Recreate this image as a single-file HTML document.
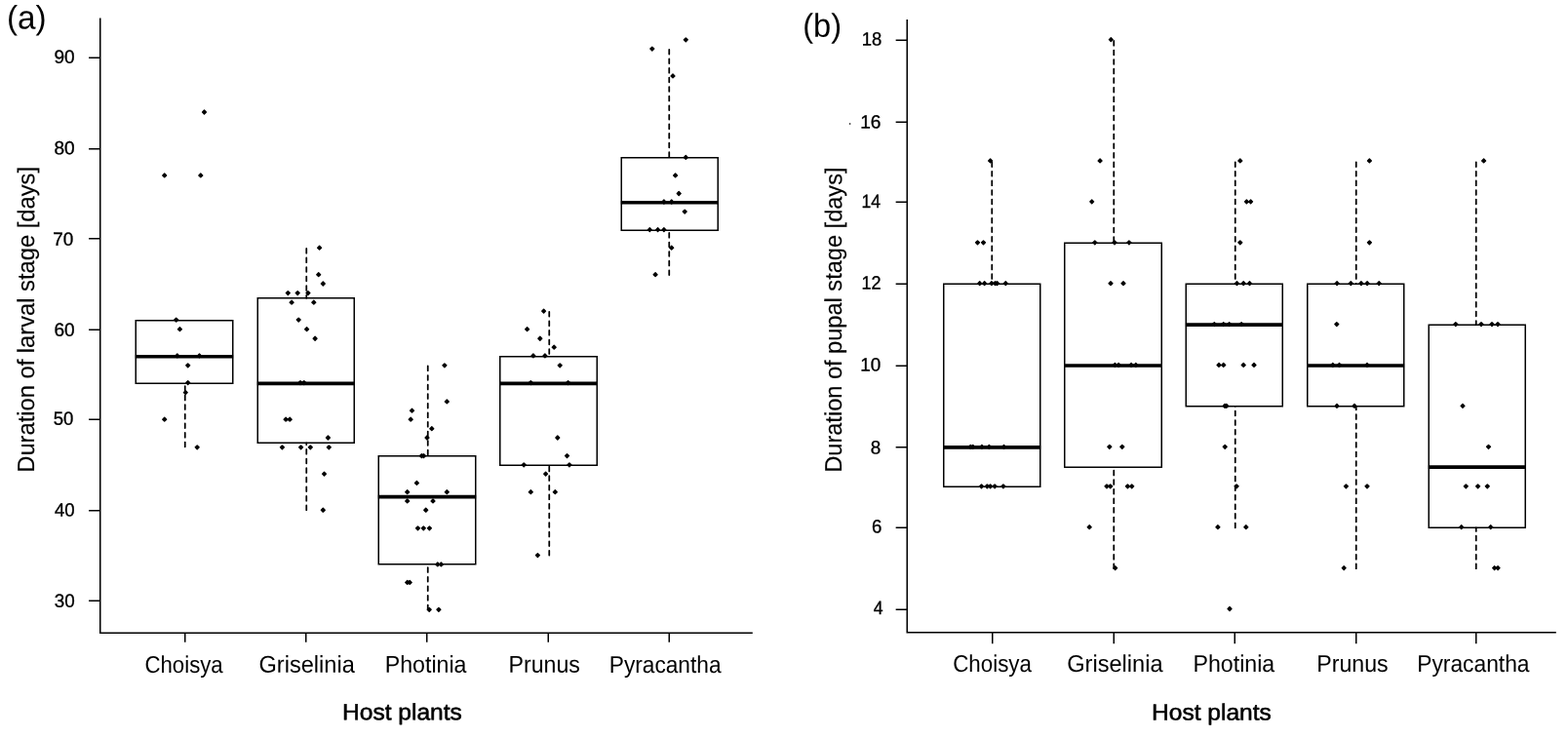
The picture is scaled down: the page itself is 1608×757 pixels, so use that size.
<!DOCTYPE html>
<html lang="en">
<head>
<meta charset="utf-8">
<title>Duration of larval and pupal stage by host plant</title>
<style>
html,body{margin:0;padding:0;background:#fff;}
body{width:1608px;height:757px;overflow:hidden;}
svg{display:block;}
text{font-family:"Liberation Sans",Arial,Helvetica,sans-serif;fill:#000;}
.hp{stroke:#000;stroke-width:0.55px;stroke-linejoin:round;}
.tl{stroke:#000;stroke-width:0.35px;stroke-linejoin:round;}
.yl{stroke:#000;stroke-width:0.12px;stroke-linejoin:round;}
.ln,.tk,.bx,.wh,.md{fill:none;stroke:#000;}
.ln{stroke-width:1.55px;stroke-linejoin:miter;}
.tk{stroke-width:1.5px;}
.bx{stroke-width:1.5px;stroke-linejoin:miter;}
.wh{stroke-width:1.75px;stroke-dasharray:4.75 4.83;stroke-linecap:round;}
.md{stroke-width:3.6px;}
.pt{fill:#000;stroke:#000;stroke-width:1.4px;stroke-linejoin:round;}
.sp{fill:#444;}
</style>
</head>
<body>
<svg width="1608" height="757" viewBox="0 0 1608 757" role="img" aria-label="Box plots of larval and pupal stage duration by host plant">
<rect x="0" y="0" width="1608" height="757" fill="#fff"/>
<g id="panel-a">
<path class="ln" d="M102.75 18.4V649.25H771.8"/>
<path class="tk" d="M102.75 616.25h-11.7M102.75 523.75h-11.7M102.75 430.25h-11.7M102.75 338.25h-11.7M102.75 244.75h-11.7M102.75 152.75h-11.7M102.75 59.25h-11.7M189.75 649.25V658.7M313.75 649.25V658.7M437.75 649.25V658.7M562.25 649.25V658.7M686.25 649.25V658.7"/>
<path class="bx" d="M139.25 328.75H238.75V393.25H139.25ZM264.25 305.75H363.25V454.25H264.25ZM388.25 467.75H487.75V578.75H388.25ZM512.75 365.75H612.25V477.25H512.75ZM637.25 161.75H736.25V236.25H637.25Z"/>
<path class="wh" d="M189.75 458.28V393.25M314.25 254.88V305.75M314.25 523.23V454.25M438.75 375.48V467.75M438.75 625.28V578.75M563.25 319.82V365.75M563.25 569.61V477.25M686.25 50.77V161.75M686.25 282.01V236.25"/>
<path class="md" d="M138.85 365.81H239.15M263.85 393.34H363.65M387.85 509.61H488.15M512.35 393.34H612.65M636.85 207.79H736.65"/>
<path class="pt" d="M166.8 179.96l1.9 -1.9l1.9 1.9l-1.9 1.9zM203.9 179.96l1.9 -1.9l1.9 1.9l-1.9 1.9zM207.6 115.01l1.9 -1.9l1.9 1.9l-1.9 1.9zM178.8 328.1l1.9 -1.9l1.9 1.9l-1.9 1.9zM182.5 337.68l1.9 -1.9l1.9 1.9l-1.9 1.9zM179.9 364.91l1.9 -1.9l1.9 1.9l-1.9 1.9zM202.6 364.91l1.9 -1.9l1.9 1.9l-1.9 1.9zM190.8 374.78l1.9 -1.9l1.9 1.9l-1.9 1.9zM190.8 392.54l1.9 -1.9l1.9 1.9l-1.9 1.9zM188.4 402.62l1.9 -1.9l1.9 1.9l-1.9 1.9zM166.8 430.15l1.9 -1.9l1.9 1.9l-1.9 1.9zM200.3 458.78l1.9 -1.9l1.9 1.9l-1.9 1.9zM325.7 254.18l1.9 -1.9l1.9 1.9l-1.9 1.9zM324.8 281.71l1.9 -1.9l1.9 1.9l-1.9 1.9zM329.4 290.99l1.9 -1.9l1.9 1.9l-1.9 1.9zM293.4 300.56l1.9 -1.9l1.9 1.9l-1.9 1.9zM303.3 300.56l1.9 -1.9l1.9 1.9l-1.9 1.9zM314 300.56l1.9 -1.9l1.9 1.9l-1.9 1.9zM297.2 310.14l1.9 -1.9l1.9 1.9l-1.9 1.9zM319.9 310.14l1.9 -1.9l1.9 1.9l-1.9 1.9zM304.3 328.1l1.9 -1.9l1.9 1.9l-1.9 1.9zM312.7 337.68l1.9 -1.9l1.9 1.9l-1.9 1.9zM321.2 347.25l1.9 -1.9l1.9 1.9l-1.9 1.9zM306.1 392.54l1.9 -1.9l1.9 1.9l-1.9 1.9zM309.9 392.54l1.9 -1.9l1.9 1.9l-1.9 1.9zM291.2 430.15l1.9 -1.9l1.9 1.9l-1.9 1.9zM295.3 430.15l1.9 -1.9l1.9 1.9l-1.9 1.9zM334.5 449l1.9 -1.9l1.9 1.9l-1.9 1.9zM287.5 458.78l1.9 -1.9l1.9 1.9l-1.9 1.9zM306.7 458.78l1.9 -1.9l1.9 1.9l-1.9 1.9zM316.4 458.78l1.9 -1.9l1.9 1.9l-1.9 1.9zM335.4 458.78l1.9 -1.9l1.9 1.9l-1.9 1.9zM330.6 486.12l1.9 -1.9l1.9 1.9l-1.9 1.9zM329.4 523.23l1.9 -1.9l1.9 1.9l-1.9 1.9zM454 374.78l1.9 -1.9l1.9 1.9l-1.9 1.9zM456.4 411.89l1.9 -1.9l1.9 1.9l-1.9 1.9zM420.6 421.17l1.9 -1.9l1.9 1.9l-1.9 1.9zM419.3 430.15l1.9 -1.9l1.9 1.9l-1.9 1.9zM440.9 439.73l1.9 -1.9l1.9 1.9l-1.9 1.9zM436.1 449l1.9 -1.9l1.9 1.9l-1.9 1.9zM430.5 467.56l1.9 -1.9l1.9 1.9l-1.9 1.9zM432.6 467.56l1.9 -1.9l1.9 1.9l-1.9 1.9zM425.5 495.39l1.9 -1.9l1.9 1.9l-1.9 1.9zM415.8 504.67l1.9 -1.9l1.9 1.9l-1.9 1.9zM456.4 504.67l1.9 -1.9l1.9 1.9l-1.9 1.9zM415.8 513.95l1.9 -1.9l1.9 1.9l-1.9 1.9zM442.1 513.95l1.9 -1.9l1.9 1.9l-1.9 1.9zM434.8 523.23l1.9 -1.9l1.9 1.9l-1.9 1.9zM426.6 541.78l1.9 -1.9l1.9 1.9l-1.9 1.9zM432.4 541.78l1.9 -1.9l1.9 1.9l-1.9 1.9zM438.5 541.78l1.9 -1.9l1.9 1.9l-1.9 1.9zM446.9 578.89l1.9 -1.9l1.9 1.9l-1.9 1.9zM450.5 578.89l1.9 -1.9l1.9 1.9l-1.9 1.9zM415.8 597.45l1.9 -1.9l1.9 1.9l-1.9 1.9zM418.3 597.45l1.9 -1.9l1.9 1.9l-1.9 1.9zM438.3 625.28l1.9 -1.9l1.9 1.9l-1.9 1.9zM448 625.28l1.9 -1.9l1.9 1.9l-1.9 1.9zM555.7 319.12l1.9 -1.9l1.9 1.9l-1.9 1.9zM538.7 337.68l1.9 -1.9l1.9 1.9l-1.9 1.9zM551.9 347.25l1.9 -1.9l1.9 1.9l-1.9 1.9zM566.3 356.23l1.9 -1.9l1.9 1.9l-1.9 1.9zM545 364.91l1.9 -1.9l1.9 1.9l-1.9 1.9zM557 364.91l1.9 -1.9l1.9 1.9l-1.9 1.9zM572.3 374.78l1.9 -1.9l1.9 1.9l-1.9 1.9zM542.4 392.54l1.9 -1.9l1.9 1.9l-1.9 1.9zM580.7 392.54l1.9 -1.9l1.9 1.9l-1.9 1.9zM569.9 449l1.9 -1.9l1.9 1.9l-1.9 1.9zM579.6 467.56l1.9 -1.9l1.9 1.9l-1.9 1.9zM535.3 476.84l1.9 -1.9l1.9 1.9l-1.9 1.9zM582 476.84l1.9 -1.9l1.9 1.9l-1.9 1.9zM557.7 486.12l1.9 -1.9l1.9 1.9l-1.9 1.9zM542.4 504.67l1.9 -1.9l1.9 1.9l-1.9 1.9zM567.4 504.67l1.9 -1.9l1.9 1.9l-1.9 1.9zM549.5 569.61l1.9 -1.9l1.9 1.9l-1.9 1.9zM701.4 40.79l1.9 -1.9l1.9 1.9l-1.9 1.9zM666.9 50.07l1.9 -1.9l1.9 1.9l-1.9 1.9zM688.1 77.9l1.9 -1.9l1.9 1.9l-1.9 1.9zM701.4 161.4l1.9 -1.9l1.9 1.9l-1.9 1.9zM690.7 179.96l1.9 -1.9l1.9 1.9l-1.9 1.9zM694.3 198.51l1.9 -1.9l1.9 1.9l-1.9 1.9zM679 206.99l1.9 -1.9l1.9 1.9l-1.9 1.9zM686.8 206.99l1.9 -1.9l1.9 1.9l-1.9 1.9zM700.3 217.07l1.9 -1.9l1.9 1.9l-1.9 1.9zM664.4 235.62l1.9 -1.9l1.9 1.9l-1.9 1.9zM672.7 235.62l1.9 -1.9l1.9 1.9l-1.9 1.9zM679 235.62l1.9 -1.9l1.9 1.9l-1.9 1.9zM686.8 254.18l1.9 -1.9l1.9 1.9l-1.9 1.9zM670.2 281.71l1.9 -1.9l1.9 1.9l-1.9 1.9z"/>
</g>
<g id="panel-b">
<path class="ln" d="M930.25 20.1V648.75H1595.8"/>
<path class="tk" d="M930.25 625.25h-11.6M930.25 541.25h-11.6M930.25 458.75h-11.6M930.25 375.25h-11.6M930.25 291.25h-11.6M930.25 207.25h-11.6M930.25 125.25h-11.6M930.25 41.25h-11.6M1017.75 648.75V660.2M1142.25 648.75V660.2M1266.25 648.75V660.2M1390.75 648.75V660.2M1513.75 648.75V660.2"/>
<path class="bx" d="M967.75 291.25H1066.75V499.25H967.75ZM1091.75 249.25H1191.25V479.25H1091.75ZM1216.25 291.25H1315.25V416.75H1216.25ZM1340.75 291.25H1439.75V416.75H1340.75ZM1465.25 333.25H1564.25V541.25H1465.25Z"/>
<path class="wh" d="M1017.25 166.27V291.25M1142.25 41.92V249.25M1142.25 583.22V479.25M1266.75 166.27V291.25M1266.75 541.32V416.75M1390.75 166.27V291.25M1390.75 583.22V416.75M1513.75 166.27V333.25M1513.75 583.22V541.25"/>
<path class="md" d="M967.35 458.87H1067.15M1091.35 375.07H1191.65M1215.85 333.17H1315.65M1340.35 375.07H1440.15M1464.85 479.14H1564.65"/>
<path class="pt" d="M1013.7 164.97l1.9 -1.9l1.9 1.9l-1.9 1.9zM1000.6 248.77l1.9 -1.9l1.9 1.9l-1.9 1.9zM1006.6 248.77l1.9 -1.9l1.9 1.9l-1.9 1.9zM1002.8 290.67l1.9 -1.9l1.9 1.9l-1.9 1.9zM1007.7 290.67l1.9 -1.9l1.9 1.9l-1.9 1.9zM1015 290.67l1.9 -1.9l1.9 1.9l-1.9 1.9zM1018.7 290.67l1.9 -1.9l1.9 1.9l-1.9 1.9zM1020.7 290.67l1.9 -1.9l1.9 1.9l-1.9 1.9zM1029.4 290.67l1.9 -1.9l1.9 1.9l-1.9 1.9zM993.4 458.27l1.9 -1.9l1.9 1.9l-1.9 1.9zM995.8 458.27l1.9 -1.9l1.9 1.9l-1.9 1.9zM1005 458.27l1.9 -1.9l1.9 1.9l-1.9 1.9zM1012.5 458.27l1.9 -1.9l1.9 1.9l-1.9 1.9zM1027.6 458.27l1.9 -1.9l1.9 1.9l-1.9 1.9zM1004.6 498.82l1.9 -1.9l1.9 1.9l-1.9 1.9zM1010.4 498.82l1.9 -1.9l1.9 1.9l-1.9 1.9zM1013.7 498.82l1.9 -1.9l1.9 1.9l-1.9 1.9zM1018.2 498.82l1.9 -1.9l1.9 1.9l-1.9 1.9zM1027 498.82l1.9 -1.9l1.9 1.9l-1.9 1.9zM1137.4 40.62l1.9 -1.9l1.9 1.9l-1.9 1.9zM1126.2 164.97l1.9 -1.9l1.9 1.9l-1.9 1.9zM1117.8 206.87l1.9 -1.9l1.9 1.9l-1.9 1.9zM1120.9 248.77l1.9 -1.9l1.9 1.9l-1.9 1.9zM1141.1 248.77l1.9 -1.9l1.9 1.9l-1.9 1.9zM1156 248.77l1.9 -1.9l1.9 1.9l-1.9 1.9zM1137.1 290.67l1.9 -1.9l1.9 1.9l-1.9 1.9zM1150.1 290.67l1.9 -1.9l1.9 1.9l-1.9 1.9zM1141.5 374.47l1.9 -1.9l1.9 1.9l-1.9 1.9zM1145.2 374.47l1.9 -1.9l1.9 1.9l-1.9 1.9zM1158.2 374.47l1.9 -1.9l1.9 1.9l-1.9 1.9zM1162.9 374.47l1.9 -1.9l1.9 1.9l-1.9 1.9zM1135.9 458.27l1.9 -1.9l1.9 1.9l-1.9 1.9zM1148.9 458.27l1.9 -1.9l1.9 1.9l-1.9 1.9zM1133.1 498.82l1.9 -1.9l1.9 1.9l-1.9 1.9zM1136.8 498.82l1.9 -1.9l1.9 1.9l-1.9 1.9zM1154.5 498.82l1.9 -1.9l1.9 1.9l-1.9 1.9zM1158.8 498.82l1.9 -1.9l1.9 1.9l-1.9 1.9zM1115.3 540.72l1.9 -1.9l1.9 1.9l-1.9 1.9zM1141.8 582.62l1.9 -1.9l1.9 1.9l-1.9 1.9zM1269.9 164.97l1.9 -1.9l1.9 1.9l-1.9 1.9zM1276.5 206.87l1.9 -1.9l1.9 1.9l-1.9 1.9zM1280.7 206.87l1.9 -1.9l1.9 1.9l-1.9 1.9zM1269.9 248.77l1.9 -1.9l1.9 1.9l-1.9 1.9zM1266.6 290.67l1.9 -1.9l1.9 1.9l-1.9 1.9zM1273.3 290.67l1.9 -1.9l1.9 1.9l-1.9 1.9zM1279.6 290.67l1.9 -1.9l1.9 1.9l-1.9 1.9zM1243.4 332.57l1.9 -1.9l1.9 1.9l-1.9 1.9zM1252.8 332.57l1.9 -1.9l1.9 1.9l-1.9 1.9zM1258.7 332.57l1.9 -1.9l1.9 1.9l-1.9 1.9zM1271.2 332.57l1.9 -1.9l1.9 1.9l-1.9 1.9zM1248.1 374.47l1.9 -1.9l1.9 1.9l-1.9 1.9zM1252.8 374.47l1.9 -1.9l1.9 1.9l-1.9 1.9zM1273.3 374.47l1.9 -1.9l1.9 1.9l-1.9 1.9zM1284.1 374.47l1.9 -1.9l1.9 1.9l-1.9 1.9zM1254.1 416.37l1.9 -1.9l1.9 1.9l-1.9 1.9zM1255.9 416.37l1.9 -1.9l1.9 1.9l-1.9 1.9zM1254.3 458.27l1.9 -1.9l1.9 1.9l-1.9 1.9zM1266.2 498.82l1.9 -1.9l1.9 1.9l-1.9 1.9zM1247 540.72l1.9 -1.9l1.9 1.9l-1.9 1.9zM1275.9 540.72l1.9 -1.9l1.9 1.9l-1.9 1.9zM1259.1 624.51l1.9 -1.9l1.9 1.9l-1.9 1.9zM1402.5 164.97l1.9 -1.9l1.9 1.9l-1.9 1.9zM1402.5 248.77l1.9 -1.9l1.9 1.9l-1.9 1.9zM1369.2 290.67l1.9 -1.9l1.9 1.9l-1.9 1.9zM1383.4 290.67l1.9 -1.9l1.9 1.9l-1.9 1.9zM1394 290.67l1.9 -1.9l1.9 1.9l-1.9 1.9zM1400.2 290.67l1.9 -1.9l1.9 1.9l-1.9 1.9zM1412.3 290.67l1.9 -1.9l1.9 1.9l-1.9 1.9zM1368.9 332.57l1.9 -1.9l1.9 1.9l-1.9 1.9zM1364.9 374.47l1.9 -1.9l1.9 1.9l-1.9 1.9zM1371.6 374.47l1.9 -1.9l1.9 1.9l-1.9 1.9zM1400.1 374.47l1.9 -1.9l1.9 1.9l-1.9 1.9zM1369.1 416.37l1.9 -1.9l1.9 1.9l-1.9 1.9zM1387.1 416.37l1.9 -1.9l1.9 1.9l-1.9 1.9zM1378.5 498.82l1.9 -1.9l1.9 1.9l-1.9 1.9zM1400.1 498.82l1.9 -1.9l1.9 1.9l-1.9 1.9zM1376.3 582.62l1.9 -1.9l1.9 1.9l-1.9 1.9zM1519.7 164.97l1.9 -1.9l1.9 1.9l-1.9 1.9zM1490.9 332.57l1.9 -1.9l1.9 1.9l-1.9 1.9zM1517.1 332.57l1.9 -1.9l1.9 1.9l-1.9 1.9zM1528.1 332.57l1.9 -1.9l1.9 1.9l-1.9 1.9zM1534.1 332.57l1.9 -1.9l1.9 1.9l-1.9 1.9zM1498.1 416.37l1.9 -1.9l1.9 1.9l-1.9 1.9zM1524.6 458.27l1.9 -1.9l1.9 1.9l-1.9 1.9zM1501.4 498.82l1.9 -1.9l1.9 1.9l-1.9 1.9zM1513.7 498.82l1.9 -1.9l1.9 1.9l-1.9 1.9zM1523.4 498.82l1.9 -1.9l1.9 1.9l-1.9 1.9zM1496.8 540.72l1.9 -1.9l1.9 1.9l-1.9 1.9zM1526.8 540.72l1.9 -1.9l1.9 1.9l-1.9 1.9zM1530.7 582.62l1.9 -1.9l1.9 1.9l-1.9 1.9zM1534.2 582.62l1.9 -1.9l1.9 1.9l-1.9 1.9z"/>
<circle class="sp" cx="871.6" cy="127" r="0.9"/>
</g>
<g id="labels">
<text transform="translate(7 29.5) rotate(0.03)" font-size="33.8" textLength="40.66" lengthAdjust="spacingAndGlyphs">(a)</text>
<text transform="translate(823.25 37.75) rotate(0.03)" font-size="33.8" textLength="39.81" lengthAdjust="spacingAndGlyphs">(b)</text>
<text class="tl" transform="translate(55.5 64.75) rotate(0.03)" font-size="19.2" textLength="21.16" lengthAdjust="spacingAndGlyphs">90</text>
<text class="tl" transform="translate(55.5 158.25) rotate(0.03)" font-size="19.2" textLength="21.17" lengthAdjust="spacingAndGlyphs">80</text>
<text class="tl" transform="translate(54.25 251.75) rotate(0.03)" font-size="19.2" textLength="21.01" lengthAdjust="spacingAndGlyphs">70</text>
<text class="tl" transform="translate(55.5 344.75) rotate(0.03)" font-size="19.2" textLength="21.16" lengthAdjust="spacingAndGlyphs">60</text>
<text class="tl" transform="translate(54.75 435.75) rotate(0.03)" font-size="19.2" textLength="20.62" lengthAdjust="spacingAndGlyphs">50</text>
<text class="tl" transform="translate(56 529.5) rotate(0.03)" font-size="19.2" textLength="20.65" lengthAdjust="spacingAndGlyphs">40</text>
<text class="tl" transform="translate(55.75 622.75) rotate(0.03)" font-size="19.2" textLength="20.9" lengthAdjust="spacingAndGlyphs">30</text>
<text class="tl" transform="translate(883.75 46.5) rotate(0.03)" font-size="19.2" textLength="20.5" lengthAdjust="spacingAndGlyphs">18</text>
<text class="tl" transform="translate(882.25 131.5) rotate(0.03)" font-size="19.2" textLength="21.25" lengthAdjust="spacingAndGlyphs">16</text>
<text class="tl" transform="translate(883.5 212.75) rotate(0.03)" font-size="19.2" textLength="19.57" lengthAdjust="spacingAndGlyphs">14</text>
<text class="tl" transform="translate(883.5 296.5) rotate(0.03)" font-size="19.2" textLength="20.1" lengthAdjust="spacingAndGlyphs">12</text>
<text class="tl" transform="translate(882.25 380.5) rotate(0.03)" font-size="19.2" textLength="20.97" lengthAdjust="spacingAndGlyphs">10</text>
<text class="tl" transform="translate(892.75 465.5) rotate(0.03)" font-size="19.2" textLength="10.5" lengthAdjust="spacingAndGlyphs">8</text>
<text class="tl" transform="translate(894 546.5) rotate(0.03)" font-size="19.2" textLength="10.33" lengthAdjust="spacingAndGlyphs">6</text>
<text class="tl" transform="translate(895.75 630.25) rotate(0.03)" font-size="19.2" textLength="9.82" lengthAdjust="spacingAndGlyphs">4</text>
<text transform="translate(148.5 689.75) rotate(0.03)" font-size="24.4" textLength="80.17" lengthAdjust="spacingAndGlyphs">Choisya</text>
<text transform="translate(265.5 689.75) rotate(0.03)" font-size="24.4" textLength="98.26" lengthAdjust="spacingAndGlyphs">Griselinia</text>
<text transform="translate(394.75 689.75) rotate(0.03)" font-size="24.4" textLength="83.69" lengthAdjust="spacingAndGlyphs">Photinia</text>
<text transform="translate(521.5 689.75) rotate(0.03)" font-size="24.4" textLength="73.4" lengthAdjust="spacingAndGlyphs">Prunus</text>
<text transform="translate(624.75 689.75) rotate(0.03)" font-size="24.4" textLength="114.78" lengthAdjust="spacingAndGlyphs">Pyracantha</text>
<text transform="translate(977.25 689) rotate(0.03)" font-size="24.4" textLength="80.67" lengthAdjust="spacingAndGlyphs">Choisya</text>
<text transform="translate(1094.25 689) rotate(0.03)" font-size="24.4" textLength="98.31" lengthAdjust="spacingAndGlyphs">Griselinia</text>
<text transform="translate(1223.5 689) rotate(0.03)" font-size="24.4" textLength="83.69" lengthAdjust="spacingAndGlyphs">Photinia</text>
<text transform="translate(1350.25 689) rotate(0.03)" font-size="24.4" textLength="73.41" lengthAdjust="spacingAndGlyphs">Prunus</text>
<text transform="translate(1453.25 689) rotate(0.03)" font-size="24.4" textLength="115.28" lengthAdjust="spacingAndGlyphs">Pyracantha</text>
<text class="hp" transform="translate(351 738.25) rotate(0.03)" font-size="23.4" textLength="122.84" lengthAdjust="spacingAndGlyphs">Host plants</text>
<text class="hp" transform="translate(1181 738.5) rotate(0.03)" font-size="23.4" textLength="122.84" lengthAdjust="spacingAndGlyphs">Host plants</text>
<text class="yl" transform="translate(35 484.75) rotate(-89.97)" font-size="24.4" textLength="313.74" lengthAdjust="spacingAndGlyphs">Duration of larval stage [days]</text>
<text class="yl" transform="translate(863 484.75) rotate(-89.97)" font-size="24.4" textLength="313.24" lengthAdjust="spacingAndGlyphs">Duration of pupal stage [days]</text>
</g>
</svg>
</body>
</html>
